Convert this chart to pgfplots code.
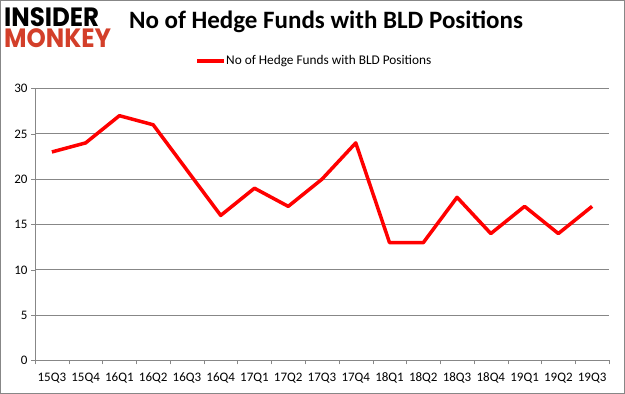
\documentclass[border=0pt]{standalone}
\usepackage{pgfplots}
\pgfplotsset{compat=1.18}
\usepackage{fontspec}
\setmainfont{Carlito}
\newfontfamily\logofont{Poppins}
\definecolor{monkey}{HTML}{D33F2A}
\definecolor{gridgray}{HTML}{878787}
\begin{document}
\begin{tikzpicture}[x=1pt,y=1pt]
\path[use as bounding box] (0,0) rectangle (625,394);
\draw[gridgray,line width=1pt] (0.5,0.5) rectangle (624.5,393.5);
\node[anchor=base west,inner sep=0,font=\logofont\bfseries\fontsize{24.5}{25}\selectfont,yscale=1.08] at (4,367.5) {INSIDER};
\node[anchor=base west,inner sep=0,font=\logofont\bfseries\fontsize{24.5}{25}\selectfont,text=monkey,yscale=1.08] at (4,346) {MONKEY};
\node[font=\bfseries\fontsize{25}{28}\selectfont] at (326,372) {No of Hedge Funds with BLD Positions};
\draw[red,line width=3.5pt] (197,333) -- (224,333);
\node[anchor=west,inner sep=0,font=\fontsize{13.3}{15}\selectfont] at (226,333) {No of Hedge Funds with BLD Positions};
\begin{axis}[
  at={(35pt,33.5pt)}, anchor=south west,
  scale only axis, width=574pt, height=272pt,
  xmin=-0.5, xmax=16.5, ymin=0, ymax=30,
  axis x line*=bottom, axis y line*=left,
  axis line style={gridgray},
  xtick={0,...,16},
  xticklabels={15Q3,15Q4,16Q1,16Q2,16Q3,16Q4,17Q1,17Q2,17Q3,17Q4,18Q1,18Q2,18Q3,18Q4,19Q1,19Q2,19Q3},
  major x tick style={draw=none},
  minor xtick={-0.5,0.5,...,16.5},
  minor tick length=4pt,
  minor x tick style={gridgray},
  ytick={0,5,...,30},
  major tick length=4pt,
  tick align=outside,
  y tick style={gridgray},
  ymajorgrids, grid style={gridgray,line width=0.8pt},
  tick label style={font=\fontsize{13}{15}\selectfont},
  /pgf/number format/assume math mode=true,
  xticklabel style={yshift=-5pt},
  clip=false,
]
\addplot[red,line width=3.5pt,line join=round] coordinates {
(0,23)(1,24)(2,27)(3,26)(4,21)(5,16)(6,19)(7,17)(8,20)(9,24)(10,13)(11,13)(12,18)(13,14)(14,17)(15,14)(16,17)};
\end{axis}
\end{tikzpicture}
\end{document}
